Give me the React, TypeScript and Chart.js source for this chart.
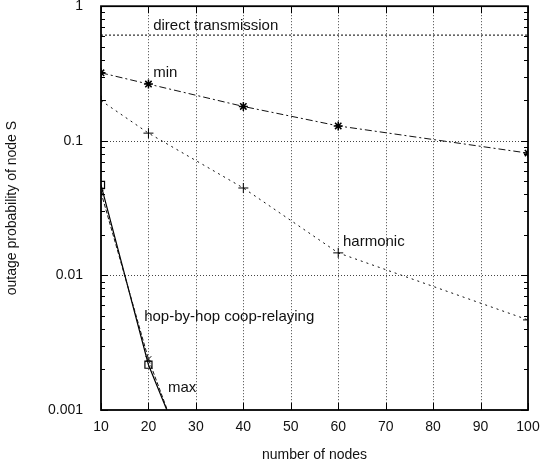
import React, { useEffect, useRef } from "react";
import { Chart, registerables } from "chart.js";

Chart.register(...registerables);

// ---- data ----
const directNodes = [10, 100];
const directValues = [0.61, 0.61];
const minNodes = [10, 20, 40, 60, 100];
const minValues = [0.32, 0.264, 0.18, 0.129, 0.081];
const harmonicNodes = [10, 20, 40, 60, 100];
const harmonicValues = [0.199, 0.114, 0.0446, 0.0147, 0.00467];
const hopNodes = [10, 20, 40];
const hopValues = [0.0414, 0.00239, 0.00003];
const maxNodes = [10, 20, 40];
const maxValues = [0.047, 0.00217, 0.00004];

const xTicks = [10, 20, 30, 40, 50, 60, 70, 80, 90, 100];
const yTicks = [0.001, 0.01, 0.1, 1];
const yTickLabels = ["0.001", "0.01", "0.1", "1"];

const labels = [
  { text: "direct transmission", x: 21.0, y: 0.71 },
  { text: "min", x: 21.0, y: 0.318 },
  { text: "harmonic", x: 61.0, y: 0.0177 },
  { text: "hop-by-hop coop-relaying", x: 19.1, y: 0.0049 },
  { text: "max", x: 24.1, y: 0.00146 },
];

const FONT = "'Liberation Sans', Arial, Helvetica, sans-serif";

const toPts = (xs: number[], ys: number[]) => xs.map((x, i) => ({ x, y: ys[i] }));

const framePlugin = {
  id: "framePlugin",
  beforeDatasetsDraw(chart: any) {
    const { ctx, chartArea: a, scales } = chart;
    const xs = scales.x;
    const ys = scales.y;
    ctx.save();
    // grid
    ctx.strokeStyle = "#444";
    ctx.lineWidth = 1;
    ctx.setLineDash([1, 2]);
    xTicks.forEach((v) => {
      const px = Math.round(xs.getPixelForValue(v)) + 0.5;
      if (v === xTicks[0] || v === xTicks[xTicks.length - 1]) return;
      ctx.beginPath();
      ctx.moveTo(px, a.top);
      ctx.lineTo(px, a.bottom);
      ctx.stroke();
    });
    yTicks.forEach((v) => {
      const py = Math.round(ys.getPixelForValue(v)) + 0.5;
      if (v === yTicks[0] || v === yTicks[yTicks.length - 1]) return;
      ctx.beginPath();
      ctx.moveTo(a.left, py);
      ctx.lineTo(a.right, py);
      ctx.stroke();
    });
    ctx.setLineDash([]);
    ctx.strokeStyle = "#000";
    // x ticks top & bottom
    xTicks.forEach((v) => {
      const px = Math.round(xs.getPixelForValue(v)) + 0.5;
      ctx.beginPath();
      ctx.moveTo(px, a.top);
      ctx.lineTo(px, a.top + 7);
      ctx.moveTo(px, a.bottom);
      ctx.lineTo(px, a.bottom - 7);
      ctx.stroke();
    });
    // y ticks major + minor on left & right
    for (let e = -3; e <= 0; e++) {
      for (let m = 1; m <= 9; m++) {
        const v = m * Math.pow(10, e);
        if (v > 1.0001) continue;
        const py = Math.round(ys.getPixelForValue(v)) + 0.5;
        const len = m === 1 ? 7 : 4;
        ctx.beginPath();
        ctx.moveTo(a.left, py);
        ctx.lineTo(a.left + len, py);
        ctx.moveTo(a.right, py);
        ctx.lineTo(a.right - len, py);
        ctx.stroke();
      }
    }
    ctx.restore();
  },
  afterDatasetsDraw(chart: any) {
    const { ctx, chartArea: a, scales } = chart;
    ctx.save();
    ctx.strokeStyle = "#000";
    ctx.lineWidth = 1.8;
    ctx.strokeRect(a.left, a.top, a.right - a.left, a.bottom - a.top);
    ctx.fillStyle = "#111";
    ctx.font = `15px ${FONT}`;
    ctx.textBaseline = "middle";
    ctx.textAlign = "left";
    labels.forEach((l) => {
      ctx.fillText(l.text, scales.x.getPixelForValue(l.x), scales.y.getPixelForValue(l.y));
    });
    ctx.restore();
  },
};

export default function App() {
  const ref = useRef<HTMLCanvasElement | null>(null);
  useEffect(() => {
    document.body.style.margin = "0";
    const canvas = ref.current!;
    const chart = new Chart(canvas, {
      type: "line",
      data: {
        datasets: [
          {
            label: "direct transmission",
            data: toPts(directNodes, directValues),
            borderColor: "#333",
            borderWidth: 1.2,
            borderDash: [2, 2],
            pointRadius: 0,
          },
          {
            label: "min",
            data: toPts(minNodes, minValues),
            borderColor: "#111",
            borderWidth: 1,
            borderDash: [7, 3, 2, 3],
            pointStyle: "star",
            pointRadius: 4.5,
            pointBorderWidth: 1.5,
            pointBorderColor: "#000",
            pointBackgroundColor: "#000",
          },
          {
            label: "harmonic",
            data: toPts(harmonicNodes, harmonicValues),
            borderColor: "#111",
            borderWidth: 1,
            borderDash: [2, 4],
            pointStyle: "cross",
            pointRadius: 5,
            pointBorderWidth: 1,
            pointBorderColor: "#000",
          },
          {
            label: "hop-by-hop coop-relaying",
            data: toPts(hopNodes, hopValues),
            borderColor: "#111",
            borderWidth: 1,
            borderDash: [4, 2],
            pointStyle: "crossRot",
            pointRadius: 4,
            pointBorderWidth: 1,
            pointBorderColor: "#000",
          },
          {
            label: "max",
            data: toPts(maxNodes, maxValues),
            borderColor: "#000",
            borderWidth: 1.2,
            pointStyle: "rect",
            pointRadius: 5,
            pointBorderWidth: 1.2,
            pointBorderColor: "#000",
            pointBackgroundColor: "rgba(0,0,0,0)",
          },
        ],
      },
      options: {
        responsive: false,
        animation: false,
        layout: { padding: { top: 6, right: 26, left: 0, bottom: 0 } },
        plugins: { legend: { display: false }, tooltip: { enabled: false } },
        elements: { line: { tension: 0 } },
        scales: {
          x: {
            type: "linear",
            min: 10,
            max: 100,
            afterFit: (s: any) => {
              s.height = 54;
              s.paddingLeft = 0;
              s.paddingRight = 0;
            },
            afterBuildTicks: (s: any) => {
              s.ticks = xTicks.map((v) => ({ value: v }));
            },
            grid: { display: false, drawTicks: false },
            border: { display: false },
            ticks: {
              padding: 9,
              color: "#111",
              font: { family: FONT, size: 14 },
              maxRotation: 0,
              autoSkip: false,
            },
            title: {
              display: true,
              text: "number of nodes",
              color: "#111",
              font: { family: FONT, size: 14 },
              padding: { top: 10.6, bottom: 0 },
            },
          },
          y: {
            type: "logarithmic",
            min: 0.001,
            max: 1,
            afterFit: (s: any) => {
              s.width = 101;
              s.paddingTop = 0;
              s.paddingBottom = 0;
            },
            afterBuildTicks: (s: any) => {
              s.ticks = yTicks.map((v) => ({ value: v }));
            },
            grid: { display: false, drawTicks: false },
            border: { display: false },
            ticks: {
              padding: 18,
              color: "#111",
              font: { family: FONT, size: 14 },
              autoSkip: false,
              callback: (v: any) => {
                const i = yTicks.findIndex((t) => Math.abs(t - Number(v)) / t < 1e-6);
                return i >= 0 ? yTickLabels[i] : "";
              },
            },
            title: {
              display: true,
              text: "outage probability of node S",
              color: "#111",
              font: { family: FONT, size: 14 },
              padding: { top: 3.6, bottom: 0 },
            },
          },
        },
      },
      plugins: [framePlugin],
    } as any);
    return () => chart.destroy();
  }, []);
  return (
    <div style={{ width: 554, height: 464 }}>
      <canvas ref={ref} width={554} height={464} style={{ display: "block" }} />
    </div>
  );
}
